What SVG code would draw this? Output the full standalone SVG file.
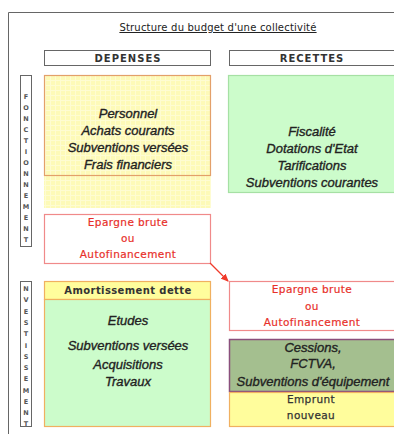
<svg xmlns="http://www.w3.org/2000/svg" width="394" height="434" viewBox="0 0 394 434">
<defs>
<pattern id="grid" x="0" y="0" width="5" height="5" patternUnits="userSpaceOnUse">
<rect width="5" height="5" fill="#fdfab8"/>
<path d="M0 0.5H5M0.5 0V5" stroke="#fefcd2" stroke-width="1"/>
</pattern>
<marker id="ah" markerWidth="8" markerHeight="8" refX="7" refY="4" orient="auto" markerUnits="userSpaceOnUse">
<path d="M0 0.5L8 4L0 7.5Z" fill="#f03a2a"/>
</marker>
<style>
.hdr{font-family:"DejaVu Sans",sans-serif;font-size:10px;font-weight:bold;fill:#333;letter-spacing:1px;text-anchor:middle}
.side{font-family:"DejaVu Sans",sans-serif;font-size:6.5px;font-weight:bold;fill:#555;text-anchor:middle}
.it{font-family:"Liberation Sans",Arial,sans-serif;font-style:italic;font-size:13px;fill:#222;text-anchor:middle;stroke:#222;stroke-width:0.35}
.red{font-family:"DejaVu Sans",sans-serif;font-size:10.5px;fill:#e8302a;text-anchor:middle;letter-spacing:0.4px;stroke:#e8302a;stroke-width:0.2}
.dk{font-family:"DejaVu Sans",sans-serif;font-size:10.5px;fill:#333;text-anchor:middle;letter-spacing:0.4px;stroke:#333;stroke-width:0.25}
.box{stroke-width:1.2}
</style>
</defs>

<g id="frame">
<path d="M8.5 434V12.5H394" fill="none" stroke="#666" stroke-width="1"/>
<text x="218" y="31" font-family="DejaVu Sans, sans-serif" font-size="10" fill="#222" text-anchor="middle" letter-spacing="0.2" text-decoration="underline">Structure du budget d'une collectivité</text>
</g>

<g id="depenses">
<rect x="44.5" y="50.5" width="166" height="15" fill="#fff" stroke="#666"/>
<text class="hdr" x="128" y="62">DEPENSES</text>
</g>
<g id="recettes">
<rect x="229.5" y="50.5" width="166" height="15" fill="#fff" stroke="#666"/>
<text class="hdr" x="312" y="62">RECETTES</text>
</g>

<g id="fonctionnement">
<rect x="20.5" y="75.5" width="11" height="171" fill="#fff" stroke="#666"/>
<text class="side">
<tspan x="26" y="99">F</tspan><tspan x="26" y="110">O</tspan><tspan x="26" y="121">N</tspan><tspan x="26" y="132">C</tspan><tspan x="26" y="143">T</tspan><tspan x="26" y="154">I</tspan><tspan x="26" y="165">O</tspan><tspan x="26" y="176">N</tspan><tspan x="26" y="187">N</tspan><tspan x="26" y="198">E</tspan><tspan x="26" y="209">M</tspan><tspan x="26" y="220">E</tspan><tspan x="26" y="231">N</tspan><tspan x="26" y="242">T</tspan>
</text>
</g>

<g id="investissement">
<rect x="20.5" y="281.5" width="11" height="145" fill="#fff" stroke="#666"/>
<text class="side">
<tspan x="26" y="291">N</tspan><tspan x="26" y="302.3">V</tspan><tspan x="26" y="313.6">E</tspan><tspan x="26" y="324.9">S</tspan><tspan x="26" y="336.2">T</tspan><tspan x="26" y="347.5">I</tspan><tspan x="26" y="358.8">S</tspan><tspan x="26" y="370.1">S</tspan><tspan x="26" y="381.4">E</tspan><tspan x="26" y="392.7">M</tspan><tspan x="26" y="404">E</tspan><tspan x="26" y="415.3">N</tspan><tspan x="26" y="426">T</tspan>
</text>
</g>

<g id="charges">
<rect x="44" y="75" width="167" height="133" fill="url(#grid)"/>
<rect class="box" x="44.5" y="75.5" width="166" height="100" fill="none" stroke="#e3a06a"/>
<text class="it" x="128" y="117.5">Personnel</text>
<text class="it" x="128" y="135">Achats courants</text>
<text class="it" x="128" y="151.5">Subventions versées</text>
<text class="it" x="128" y="168.5">Frais financiers</text>
</g>

<g id="produits">
<rect class="box" x="228.5" y="75.5" width="167" height="117" fill="#ccfccb" stroke="#a6e0a4"/>
<text class="it" x="312" y="135.5">Fiscalité</text>
<text class="it" x="312" y="152.5">Dotations d'Etat</text>
<text class="it" x="312" y="169.5">Tarifications</text>
<text class="it" x="312" y="186.5">Subventions courantes</text>
</g>

<g id="epargne-f">
<rect class="box" x="44.5" y="214.5" width="166" height="49" fill="#fff" stroke="#f08a8a"/>
<text class="red" x="128" y="226">Epargne brute</text>
<text class="red" x="128" y="242">ou</text>
<text class="red" x="128" y="258">Autofinancement</text>
</g>

<g id="amortissement">
<rect class="box" x="44.5" y="281.5" width="166" height="18" fill="#fffd9c" stroke="#f0b060"/>
<text x="128" y="294" font-family="DejaVu Sans, sans-serif" font-size="10" font-weight="bold" fill="#333" text-anchor="middle" letter-spacing="0.4">Amortissement dette</text>
</g>

<g id="depenses-inv">
<rect class="box" x="44.5" y="299.5" width="166" height="127" fill="#ccfccb" stroke="#f0b060"/>
<text class="it" x="128" y="324.5">Etudes</text>
<text class="it" x="128" y="349.5">Subventions versées</text>
<text class="it" x="128" y="368.5">Acquisitions</text>
<text class="it" x="128" y="385.5">Travaux</text>
</g>

<g id="epargne-i">
<rect class="box" x="229.5" y="281.5" width="166" height="49" fill="#fff" stroke="#f08a8a"/>
<text class="red" x="312" y="293">Epargne brute</text>
<text class="red" x="312" y="310">ou</text>
<text class="red" x="312" y="326">Autofinancement</text>
</g>

<g id="cessions">
<rect x="229.5" y="339.5" width="166" height="52" fill="#a4bf8f" stroke="#8a4f7c" stroke-width="1.5"/>
<text class="it" x="313" y="351.5">Cessions,</text>
<text class="it" x="313" y="367.5">FCTVA,</text>
<text class="it" x="313" y="385.5">Subventions d'équipement</text>
</g>

<g id="emprunt">
<rect class="box" x="229.5" y="392.5" width="166" height="34" fill="#fffd9c" stroke="#f0b060"/>
<text class="dk" x="311" y="403">Emprunt</text>
<text class="dk" x="311" y="419">nouveau</text>
</g>

<g id="connectors">
<line x1="210" y1="263" x2="228" y2="281" stroke="#f03a2a" stroke-width="1.3" marker-end="url(#ah)"/>
</g>
</svg>
